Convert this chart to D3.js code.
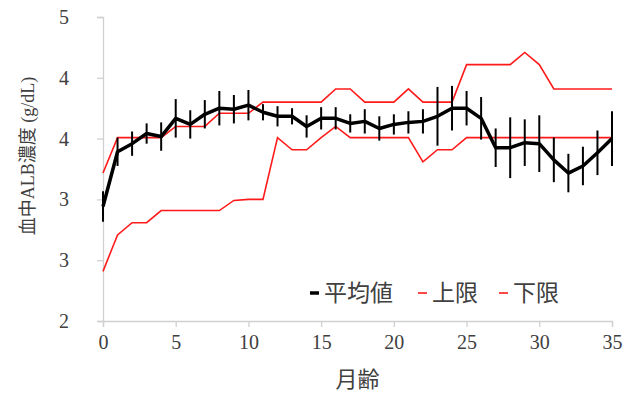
<!DOCTYPE html>
<html>
<head>
<meta charset="utf-8">
<script src="https://cdn.jsdelivr.net/npm/d3@7"></script>
<style>
  html, body { margin: 0; padding: 0; background: #fff; }
  svg { display: block; }
</style>
</head>
<body>
<svg id="chart" width="637" height="394"></svg>
<script>
// Age in months
const months = [0, 1, 2, 3, 4, 5, 6, 7, 8, 9, 10, 11, 12, 13, 14, 15, 16, 17,
                18, 19, 20, 21, 22, 23, 24, 25, 26, 27, 28, 29, 30, 31, 32, 33, 34, 35];
// Mean serum ALB (g/dL)
const meanVals = [3.13, 3.67, 3.75, 3.85, 3.82, 4.00, 3.94, 4.04, 4.10, 4.09, 4.13, 4.06,
                  4.02, 4.02, 3.92, 4.00, 4.00, 3.95, 3.97, 3.90, 3.94, 3.96, 3.97, 4.02,
                  4.10, 4.10, 4.00, 3.71, 3.71, 3.76, 3.75, 3.59, 3.46, 3.53, 3.66, 3.80];
// Error bar half-length
const errVals = [0.15, 0.14, 0.12, 0.10, 0.14, 0.19, 0.14, 0.14, 0.17, 0.14, 0.15, 0.08,
                 0.10, 0.08, 0.11, 0.11, 0.11, 0.09, 0.12, 0.12, 0.10, 0.11, 0.12, 0.29,
                 0.22, 0.17, 0.21, 0.19, 0.30, 0.23, 0.28, 0.22, 0.19, 0.19, 0.22, 0.27];
// Upper limit
const upperVals = [3.46, 3.81, 3.81, 3.81, 3.81, 3.92, 3.92, 3.92, 4.05, 4.05, 4.05, 4.16,
                   4.16, 4.16, 4.16, 4.16, 4.29, 4.29, 4.16, 4.16, 4.16, 4.29, 4.16, 4.16,
                   4.16, 4.53, 4.53, 4.53, 4.53, 4.65, 4.53, 4.29, 4.29, 4.29, 4.29, 4.29];
// Lower limit
const lowerVals = [2.49, 2.85, 2.97, 2.97, 3.09, 3.09, 3.09, 3.09, 3.09, 3.19, 3.20, 3.20,
                   3.81, 3.69, 3.69, 3.81, 3.92, 3.81, 3.81, 3.81, 3.81, 3.81, 3.57, 3.69,
                   3.69, 3.81, 3.81, 3.81, 3.81, 3.81, 3.81, 3.81, 3.81, 3.81, 3.81, 3.81];

const xTicks = [0, 5, 10, 15, 20, 25, 30, 35];
const yTicks = [2, 2.6, 3.2, 3.8, 4.4, 5];

const legendLabels = ["平均値", "上限", "下限"];
const xTitle = "月齢";
const yTitle = "血中ALB濃度 (g/dL)";

const svg = d3.select("#chart");
const numFont = "'Liberation Serif', 'DejaVu Serif', serif";
const cjkFont = "'Noto Sans CJK JP', sans-serif";
const textColor = "#404040";
const axisColor = "#d0d0d0";
const red = "#ff1a1a";

const x = d3.scaleLinear().domain([0, 35]).range([103, 612]);
const y = d3.scaleLinear().domain([2, 5]).range([321, 17]);

// Axes
const xAxis = d3.axisBottom(x).tickValues(xTicks).tickSize(6).tickPadding(8).tickFormat(d3.format("d"));
const yAxis = d3.axisLeft(y).tickValues(yTicks).tickSize(6).tickPadding(28).tickFormat(d3.format(".0f"));

const gx = svg.append("g").attr("transform", `translate(0,${y(2)})`).call(xAxis);
const gy = svg.append("g").attr("transform", `translate(${x(0)},0)`).call(yAxis);

[gx, gy].forEach(g => {
  g.select(".domain").attr("stroke", axisColor).attr("stroke-width", 1.3);
  g.selectAll(".tick line").attr("stroke", axisColor).attr("stroke-width", 1.3);
  g.selectAll(".tick text")
    .attr("fill", textColor)
    .style("font-family", numFont)
    .style("font-size", "20px");
});

// Limit lines
const line = d3.line().x((d, i) => x(months[i])).y(d => y(d));
svg.append("path").datum(upperVals)
  .attr("d", line).attr("fill", "none").attr("stroke", red).attr("stroke-width", 1.6);
svg.append("path").datum(lowerVals)
  .attr("d", line).attr("fill", "none").attr("stroke", red).attr("stroke-width", 1.6);

// Error bars
svg.append("g").selectAll("line")
  .data(meanVals)
  .join("line")
  .attr("x1", (d, i) => x(months[i]))
  .attr("x2", (d, i) => x(months[i]))
  .attr("y1", (d, i) => y(d - errVals[i]))
  .attr("y2", (d, i) => y(d + errVals[i]))
  .attr("stroke", "#000")
  .attr("stroke-width", 2);

// Mean line
svg.append("path").datum(meanVals)
  .attr("d", line).attr("fill", "none").attr("stroke", "#000")
  .attr("stroke-width", 3.5).attr("stroke-linejoin", "round");

// Legend
const legendItems = [
  { label: legendLabels[0], color: "#000", width: 3.5, x: 310 },
  { label: legendLabels[1], color: red, width: 1.6, x: 418 },
  { label: legendLabels[2], color: red, width: 1.6, x: 499 }
];
const lg = svg.append("g");
legendItems.forEach(it => {
  lg.append("line")
    .attr("x1", it.x).attr("x2", it.x + 9)
    .attr("y1", 293).attr("y2", 293)
    .attr("stroke", it.color).attr("stroke-width", it.width);
  lg.append("text")
    .attr("x", it.x + 14).attr("y", 301)
    .attr("fill", textColor)
    .style("font-family", cjkFont)
    .style("font-size", "23px")
    .text(it.label);
});

// Axis titles
svg.append("text")
  .attr("x", (x(0) + x(35)) / 2).attr("y", 387)
  .attr("text-anchor", "middle")
  .attr("fill", textColor)
  .style("font-family", cjkFont)
  .style("font-size", "22px")
  .text(xTitle);

svg.append("text")
  .attr("transform", `translate(34,156) rotate(-90)`)
  .attr("text-anchor", "middle")
  .attr("fill", textColor)
  .style("font-family", `${numFont.split(",")[0]}, ${cjkFont}`)
  .style("font-size", "18px")
  .text(yTitle);
</script>
</body>
</html>
